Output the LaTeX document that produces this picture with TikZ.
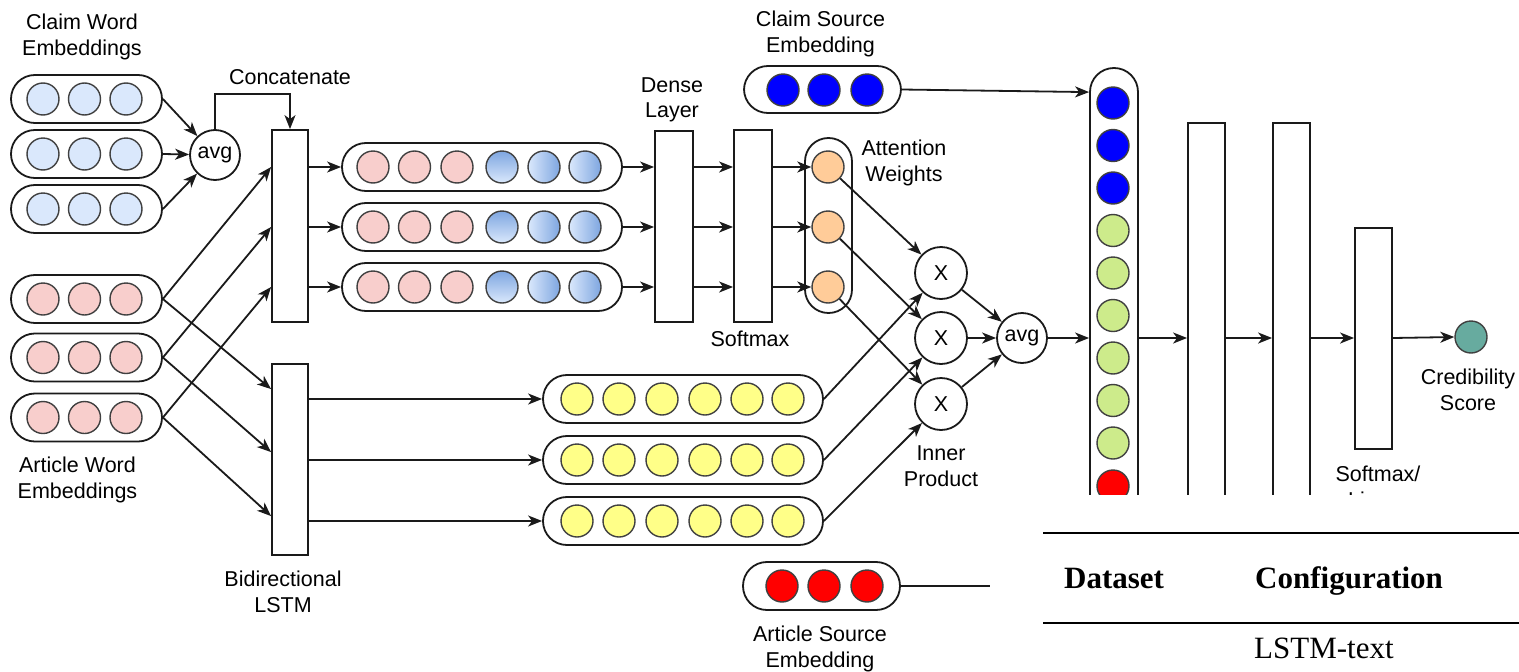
\documentclass[tikz,border=0pt]{standalone}
\usepackage{fontspec}
\setmainfont{Liberation Sans}
\newfontfamily\tabfont{Liberation Serif}
\usetikzlibrary{arrows.meta,calc}

\definecolor{pinkc}{HTML}{F8CECC}
\definecolor{lblue}{HTML}{DAE8FC}
\definecolor{mblue}{HTML}{7EA6E0}
\definecolor{pureblue}{HTML}{0000FF}
\definecolor{purered}{HTML}{FF0000}
\definecolor{yellowc}{HTML}{FFFF88}
\definecolor{orangec}{HTML}{FFCC99}
\definecolor{greenc}{HTML}{CDEB8B}
\definecolor{tealc}{HTML}{67AB9F}
\definecolor{linec}{HTML}{1A1A1A}

\begin{document}
\begin{tikzpicture}[x=1pt,y=-1pt,
  every node/.style={font=\fontsize{21.5}{25.5}\selectfont},
  pill/.style={draw=linec, line width=1.8pt, rounded corners=23.9pt,
    minimum height=48pt, inner sep=0pt},
  dot/.style={circle, draw=black!75, line width=1.4pt, minimum size=32pt, inner sep=0pt},
  op/.style={circle, draw=linec, line width=1.8pt, minimum size=50pt, inner sep=0pt},
  box/.style={draw=linec, line width=1.8pt, inner sep=0pt, fill=white},
  lab/.style={align=center, inner sep=0pt},
  arr/.style={draw=linec, line width=1.8pt, -{Stealth[length=14pt,width=11pt,inset=4pt]}},
  gradv/.style={top color=mblue, bottom color=lblue},
  gradh/.style={left color=lblue, right color=mblue}]

\path[use as bounding box] (0,0) rectangle (1519,672);

% ---------- claim word embeddings ----------
\foreach \r/\y in {1/99,2/154,3/209}{
  \node[pill, minimum width=151pt] (cw\r) at (86.5,\y) {};
  \foreach \c/\x in {1/43,2/84.5,3/126}
    \node[dot, fill=lblue] (cw\r-\c) at (\x,\y) {};
}
\node[lab] (lcw) at (82,37) {Claim Word\\Embeddings};

% ---------- article word embeddings ----------
\foreach \r/\y in {1/299,2/357.5,3/417.5}{
  \node[pill, minimum width=151pt] (aw\r) at (86.5,\y) {};
  \foreach \c/\x in {1/43,2/84.5,3/126}
    \node[dot, fill=pinkc] (aw\r-\c) at (\x,\y) {};
}
\node[lab] (law) at (77.5,480) {Article Word\\Embeddings};

% ---------- average and concatenation ----------
\node[op] (avg1) at (215,155) {avg};
\node[box, minimum width=36pt, minimum height=192pt] (cat) at (290,226) {};
\node[lab] (lcat) at (290,77) {Concatenate};

% ---------- bidirectional LSTM ----------
\node[box, minimum width=36pt, minimum height=191pt] (lstm) at (290,459.5) {};
\node[lab] (llstm) at (283,592) {Bidirectional\\LSTM};

% ---------- concatenated claim/article vectors ----------
\foreach \r/\y in {1/167,2/227,3/287}{
  \node[pill, minimum width=280pt] (rb\r) at (482,\y) {};
  \foreach \c/\x in {1/373,2/414.5,3/457}
    \node[dot, fill=pinkc] (rb\r-\c) at (\x,\y) {};
  \node[dot, gradv] (rb\r-4) at (502,\y) {};
  \node[dot, gradh] (rb\r-5) at (544,\y) {};
  \node[dot, gradh] (rb\r-6) at (585,\y) {};
}

% ---------- dense layer and softmax ----------
\node[box, minimum width=38pt, minimum height=191pt] (dense) at (674,226.5) {};
\node[lab] (ldense) at (672,100) {Dense\\Layer};
\node[box, minimum width=38pt, minimum height=192pt] (soft) at (753,226) {};
\node[lab] (lsoft) at (750,338.5) {Softmax};

% ---------- attention weights ----------
\node[pill, minimum width=47pt, minimum height=175pt, rounded corners=23.4pt] (att) at (828.5,225.5) {};
\foreach \r/\y in {1/167,2/227,3/287}
  \node[dot, fill=orangec] (o\r) at (828,\y) {};
\node[lab] (latt) at (904,163) {Attention\\Weights};

% ---------- LSTM outputs ----------
\foreach \r/\y in {1/399,2/460,3/521}{
  \node[pill, minimum width=280pt] (y\r) at (683,\y) {};
  \foreach \c/\x in {1/577,2/619,3/662,4/705,5/747,6/788}
    \node[dot, fill=yellowc] (y\r-\c) at (\x,\y) {};
}

% ---------- inner products and average ----------
\foreach \r/\y in {1/273,2/338,3/404}
  \node[op, minimum size=52pt] (x\r) at (941,\y) {X};
\node[lab] (linner) at (941,466) {Inner\\Product};
\node[op] (avg2) at (1022,338) {avg};

% ---------- source embeddings ----------
\node[pill, minimum width=157pt, minimum height=47pt] (cs) at (822.5,89.5) {};
\foreach \c/\x in {1/783,2/824,3/867}
  \node[dot, fill=pureblue] (cs-\c) at (\x,90) {};
\node[lab] (lcs) at (820.5,34) {Claim Source\\Embedding};

\node[pill, minimum width=157pt] (as) at (821.5,586) {};
\foreach \c/\x in {1/782,2/824,3/867}
  \node[dot, fill=purered] (as-\c) at (\x,586) {};
\node[lab] (las) at (820,649) {Article Source\\Embedding};

% ---------- combined feature vector ----------
\node[pill, minimum width=48pt, minimum height=542pt] (col) at (1114,339) {};
\foreach \i/\y in {1/103,2/145.5,3/188}
  \node[dot, fill=pureblue] (col-\i) at (1113,\y) {};
\foreach \i/\y in {4/230.5,5/273,6/315.5,7/358,8/400.5,9/443}
  \node[dot, fill=greenc] (col-\i) at (1113,\y) {};
\node[dot, fill=purered] (col-10) at (1113,486) {};

% ---------- classifier ----------
\node[box, minimum width=37pt, minimum height=430pt] (fc1) at (1206.5,338) {};
\node[box, minimum width=37pt, minimum height=430pt] (fc2) at (1291.5,338) {};
\node[box, minimum width=37pt, minimum height=221pt] (fc3) at (1373.5,338.5) {};
\node[lab] (lfc3) at (1378,487) {Softmax/\\Linear};
\node[dot, fill=tealc] (cred) at (1471,337) {};
\node[lab] (lcred) at (1468,390) {Credibility\\Score};

% ---------- connectors ----------
\foreach \r in {1,2,3}
  \draw[arr] (cw\r.east) -- (avg1);
\draw[arr] (avg1.north) -- ++(0,-35) -| (cat.north);

\foreach \r in {1,2,3}
  \draw[arr] (aw\r.east) -- (cat.west |- rb\r.west);
\draw[arr] (aw1.east) -- ($(lstm.north west)+(0,26)$);
\draw[arr] (aw2.east) -- ($(lstm.north west)+(0,89)$);
\draw[arr] (aw3.east) -- ($(lstm.north west)+(0,153)$);

\foreach \r in {1,2,3}{
  \draw[arr] (cat.east |- rb\r.west) -- (rb\r.west);
  \draw[arr] (rb\r.east) -- (dense.west |- rb\r.east);
  \draw[arr] (dense.east |- rb\r.east) -- (soft.west |- rb\r.east);
  \draw[arr] (soft.east |- o\r) -- (o\r);
  \draw[arr] (lstm.east |- y\r.west) -- (y\r.west);
  \draw[arr] (o\r) -- (x\r);
  \draw[arr] (y\r.east) -- (x\r);
  \draw[arr] (x\r) -- (avg2);
}

\draw[arr] (avg2) -- (col.west |- avg2);
\draw[arr] (cs.east) -- ($(col.north west)+(0,25)$);
\draw[arr] (as.east) -- (col.west |- as.east);
\draw[arr] (col.east |- avg2) -- (fc1.west |- avg2);
\draw[arr] (fc1.east |- avg2) -- (fc2.west |- avg2);
\draw[arr] (fc2.east |- avg2) -- (fc3.west |- avg2);
\draw[arr] (fc3.east |- avg2) -- (cred.west);

% ---------- table excerpt in the lower right ----------
\fill[white] (990,495) rectangle (1519,672);
\draw[line width=2.7pt] (1043,533) -- (1519,533);
\draw[line width=1.7pt] (1043,623) -- (1519,623);
\node[anchor=base west, inner sep=0pt, font=\tabfont\bfseries\fontsize{31}{36}\selectfont] (hds) at (1064,588) {Dataset};
\node[anchor=base west, inner sep=0pt, font=\tabfont\bfseries\fontsize{31}{36}\selectfont] (hcf) at (1255,588) {Configuration};
\node[anchor=base west, inner sep=0pt, font=\tabfont\fontsize{31}{36}\selectfont] (rlt) at (1254,658) {LSTM-text};

\end{tikzpicture}
\end{document}
